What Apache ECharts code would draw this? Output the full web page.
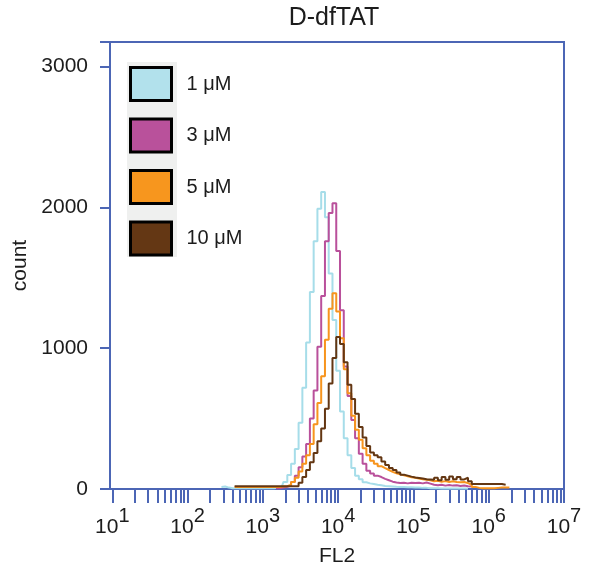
<!DOCTYPE html>
<html><head><meta charset="utf-8">
<script src="https://cdn.jsdelivr.net/npm/echarts@6/dist/echarts.min.js"></script>
<style>html,body{margin:0;padding:0;background:#fff}#c{width:605px;height:572px}</style>
</head><body><div id="c"></div>
<script>
// Bin centres, as log10(FL2)
const binExp = [
 2.45,2.50,2.55,2.60,2.65,2.70,2.75,2.80,2.85,2.90,
 2.95,3.00,3.05,3.10,3.15,3.20,3.25,3.30,3.35,3.40,
 3.45,3.50,3.55,3.60,3.65,3.70,3.75,3.80,3.85,3.90,
 3.95,4.00,4.05,4.10,4.15,4.20,4.25,4.30,4.35,4.40,
 4.45,4.50,4.55,4.60,4.65,4.70,4.75,4.80,4.85,4.90,
 4.95,5.00,5.05,5.10,5.15,5.20,5.25,5.30,5.35,5.40,
 5.45,5.50,5.55,5.60,5.65,5.70,5.75,5.80,5.85,5.90,
 5.95,6.00,6.05,6.10,6.15,6.20,6.25,6.30];

const count1uM = [
 15,18,10,6,5,5,5,5,5,5,
 5,5,5,5,5,8,15,50,100,180,
 285,470,720,1040,1400,1760,1990,2110,1930,1530,
 1200,840,550,360,240,150,95,70,48,40,
 35,30,26,22,20,18,16,15,14,12,
 12,10,10,8,8,6,5,5,4,4,
 4,3,3,3,3,3,null,null,null,null,
 null,null,null,null,null,null,null,null];

const count3uM = [
 null,null,null,null,null,null,null,null,null,null,
 null,null,null,null,null,5,10,15,25,50,
 95,155,230,320,500,700,1010,1370,1760,1960,
 2030,1690,1270,870,660,490,360,250,180,130,
 110,95,85,72,62,52,46,42,44,40,
 45,42,44,40,46,38,30,26,30,24,
 28,24,26,22,25,20,18,null,null,null,
 null,null,null,null,null,null,null,null];

const count5uM = [
 null,null,null,null,15,15,15,15,15,15,
 15,15,15,15,15,15,18,20,30,50,
 80,125,180,240,320,460,610,800,1060,1280,
 1390,1260,1070,850,680,520,420,350,290,240,
 200,180,162,148,135,122,112,104,97,90,
 84,80,75,70,66,62,55,58,52,56,
 50,55,50,48,50,42,30,15,8,5,
 5,5,5,8,10,10,10,null];

const count10uM = [
 null,null,null,null,20,20,20,20,20,20,
 20,20,20,20,20,20,20,20,20,20,
 20,45,85,135,190,255,340,430,570,750,
 930,1080,1030,900,740,640,535,440,365,305,
 260,240,225,195,170,150,135,118,102,95,
 88,82,78,74,70,68,65,80,62,85,
 65,88,70,85,68,80,55,35,35,35,
 35,35,35,35,35,30,null,null];

const seriesNames = ['1 μM', '3 μM', '5 μM', '10 μM'];
const seriesValues = [count1uM, count3uM, count5uM, count10uM];
const lineColors = ['#a6dde9', '#b9509b', '#f7941d', '#633612'];
const legendFills = ['#b2e1ec', '#b9519b', '#f7961e', '#643714'];
const yTicks = [0, 1000, 2000, 3000];
const decadeExps = [1, 2, 3, 4, 5, 6, 7];
const minorMultipliers = [1, 2, 3, 4, 5, 6, 7, 8, 9];

const FONT = 'Liberation Sans, Arial, sans-serif';
const BLUE = '#4c66b5';
const TXT = '#1c1c1c';

const tickPositions = [];
decadeExps.slice(0, -1).forEach(d => minorMultipliers.forEach(m => tickPositions.push(d + Math.log10(m))));
tickPositions.push(decadeExps[decadeExps.length - 1]);

const chart = echarts.init(document.getElementById('c'), null, {renderer: 'canvas'});
chart.setOption({
  animation: false,
  backgroundColor: '#fff',
  title: {
    text: 'D-dfTAT', left: 334, top: 6, textAlign: 'center', padding: 0,
    textStyle: {fontFamily: FONT, fontSize: 25, fontWeight: 'normal', color: TXT}
  },
  graphic: [{
    type: 'rect', z: 0, shape: {x: 127, y: 62, width: 50, height: 195},
    style: {fill: '#eff0ef'}
  }],
  legend: {
    orient: 'vertical', left: 129, top: 66, z: 10, padding: 0,
    icon: 'rect', itemWidth: 41, itemHeight: 33, itemGap: 15.5,
    itemStyle: {borderColor: '#000', borderWidth: 3},
    textStyle: {fontFamily: FONT, fontSize: 20, color: TXT, padding: [4, 0, 0, 10]},
    data: seriesNames
  },
  grid: {left: 110, right: 41, top: 42, bottom: 79, show: true, borderColor: BLUE, borderWidth: 2},
  xAxis: {
    type: 'value', min: 0.97, max: 7,
    name: 'FL2', nameLocation: 'middle', nameGap: 57,
    nameTextStyle: {fontFamily: FONT, fontSize: 21, color: TXT},
    axisLine: {lineStyle: {color: BLUE, width: 2}},
    axisTick: {customValues: tickPositions, length: 14, lineStyle: {color: BLUE, width: 2}},
    axisLabel: {
      customValues: decadeExps, margin: 17, color: TXT,
      formatter: v => '{b|10}{s|' + v + '}',
      rich: {
        b: {fontFamily: FONT, fontSize: 21, color: TXT, verticalAlign: 'bottom', padding: [11, 0, 0, 0]},
        s: {fontFamily: FONT, fontSize: 20, color: TXT, verticalAlign: 'top'}
      }
    },
    splitLine: {show: false}
  },
  yAxis: {
    type: 'value', min: 0, max: 3175,
    name: 'count', nameLocation: 'middle', nameGap: 73,
    nameTextStyle: {fontFamily: FONT, fontSize: 21, color: TXT},
    axisLine: {show: true, lineStyle: {color: BLUE, width: 2}},
    axisTick: {show: true, customValues: yTicks.concat([3175]), length: 10, lineStyle: {color: BLUE, width: 2}},
    axisLabel: {customValues: yTicks, margin: 22, fontFamily: FONT, fontSize: 21, color: TXT,
      formatter: v => String(v)},
    splitLine: {show: false}
  },
  series: seriesNames.map((name, i) => ({
    name, type: 'line', step: 'middle', symbol: 'none', showSymbol: false,
    connectNulls: false,
    itemStyle: {color: legendFills[i]},
    lineStyle: {color: lineColors[i], width: 2},
    data: binExp.map((e, j) => [e, seriesValues[i][j]])
  }))
});
</script></body></html>
